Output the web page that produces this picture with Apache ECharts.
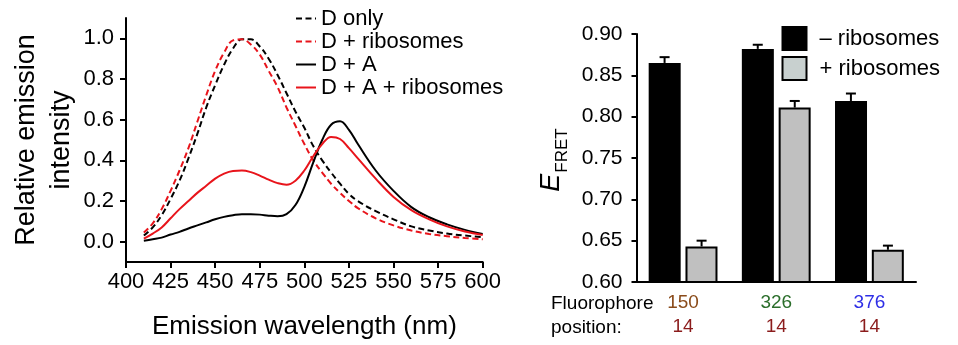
<!DOCTYPE html>
<html>
<head>
<meta charset="utf-8">
<script src="https://cdn.jsdelivr.net/npm/echarts@6/dist/echarts.min.js"></script>
<style>html,body{margin:0;padding:0;background:#fff}#c{width:958px;height:345px}</style>
</head>
<body>
<div id="c"></div>
<script>
const F="'Liberation Sans',Arial,Helvetica,sans-serif";
const RED='#e8141b',BLK='#000';

// emission spectra (nm, relative intensity)
const wavelengths=[410,415,420,425,430,435,440,445,450,455,460,465,470,475,480,485,490,495,500,505,510,515,520,525,530,540,550,560,570,580,590,600];
const dOnly      =[.03,.07,.13,.21,.30,.41,.53,.66,.77,.87,.95,.995,.995,.96,.90,.82,.73,.64,.56,.47,.40,.34,.285,.235,.20,.15,.11,.075,.055,.04,.03,.022];
const dRibo      =[.045,.09,.16,.25,.35,.46,.59,.72,.84,.93,.99,.995,.97,.92,.84,.76,.66,.57,.48,.40,.34,.285,.24,.20,.165,.115,.08,.055,.038,.027,.018,.012];
const dA         =[.005,.012,.02,.035,.048,.065,.08,.095,.11,.122,.13,.135,.135,.133,.128,.125,.135,.18,.27,.39,.50,.575,.592,.55,.48,.35,.25,.17,.12,.085,.058,.038];
const dARibo     =[.015,.04,.07,.115,.16,.20,.24,.275,.31,.335,.348,.35,.342,.325,.305,.288,.28,.30,.35,.42,.48,.515,.505,.46,.41,.31,.22,.155,.11,.075,.05,.033];
const spectraTicks=[0,0.2,0.4,0.6,0.8,1.0];

// FRET efficiency
const positions=['150','326','376'];
const minusRibo=[0.865,0.882,0.819];
const minusErr =[0.872,0.887,0.828];
const plusRibo =[0.643,0.811,0.639];
const plusErr  =[0.650,0.819,0.644];

const zip=v=>wavelengths.map((w,i)=>[w,v[i]]);
const lineS=(name,v,color,dash)=>({name,type:'line',xAxisIndex:0,yAxisIndex:0,data:zip(v),smooth:0.4,symbol:'none',
  lineStyle:{color,width:2,type:dash?[6,3.5]:'solid'},itemStyle:{color}});

function errS(top,base,off){
  return {type:'custom',xAxisIndex:1,yAxisIndex:1,z:1,silent:true,
    data:positions.map((p,i)=>[i,top[i],base[i]]),
    renderItem:(params,api)=>{
      const t=api.coord([api.value(0),api.value(1)]);
      const b=api.coord([api.value(0),api.value(2)]);
      const x=t[0]+off;
      return {type:'group',children:[
        {type:'line',shape:{x1:x,y1:b[1],x2:x,y2:t[1]},style:{stroke:BLK,lineWidth:2}},
        {type:'line',shape:{x1:x-5,y1:t[1],x2:x+5,y2:t[1]},style:{stroke:BLK,lineWidth:2}}
      ]};
    }};
}

const posColors=['#8a4b1a','#2b6e2b','#2e2ee6'];
const chart=echarts.init(document.getElementById('c'));
chart.setOption({
  animation:false,
  textStyle:{fontFamily:F},
  grid:[
    {left:126,top:18,width:356.7,height:249},
    {left:636.5,top:34,width:279.5,height:248}
  ],
  legend:[
    {orient:'vertical',left:295,top:7.5,padding:0,itemWidth:20,itemHeight:12,itemGap:1,
     itemStyle:{opacity:0},
     textStyle:{fontFamily:F,fontSize:22,color:BLK},
     data:['D only','D + ribosomes','D + A','D + A + ribosomes']},
    {orient:'vertical',left:781.5,top:26,padding:0,itemWidth:24,itemHeight:23,itemGap:5,icon:'rect',
     textStyle:{fontFamily:F,fontSize:22,color:BLK,padding:[0,0,0,8]},
     data:[{name:'\u2013 ribosomes'},{name:'+ ribosomes',itemStyle:{color:'#c8d0cf'}}]}
  ],
  xAxis:[
    {type:'value',gridIndex:0,min:400,max:600,interval:25,
     name:'Emission wavelength (nm)',nameLocation:'middle',nameGap:52,
     nameTextStyle:{fontFamily:F,fontSize:26,color:BLK},
     axisLine:{onZero:false,lineStyle:{color:BLK,width:2}},axisTick:{length:6,lineStyle:{color:BLK,width:2}},
     axisLabel:{fontFamily:F,fontSize:22,color:BLK,margin:9},splitLine:{show:false}},
    {type:'category',gridIndex:1,data:positions,
     axisLine:{onZero:false,lineStyle:{color:BLK,width:2}},axisTick:{show:false},
     axisLabel:{margin:9,formatter:(v,i)=>'{p'+i+'|'+v+'}\n{n|14}',
       rich:{p0:{fontFamily:F,fontSize:19,color:posColors[0],lineHeight:24},
             p1:{fontFamily:F,fontSize:19,color:posColors[1],lineHeight:24},
             p2:{fontFamily:F,fontSize:19,color:posColors[2],lineHeight:24},
             n:{fontFamily:F,fontSize:19,color:'#8b1c1c',lineHeight:24}}}}
  ],
  yAxis:[
    {type:'value',gridIndex:0,min:-0.1,max:1.1,
     name:'Relative emission\nintensity',nameLocation:'middle',nameGap:47,nameRotate:90,
     nameTextStyle:{fontFamily:F,fontSize:27,color:BLK,lineHeight:35},
     axisLine:{show:true,onZero:false,lineStyle:{color:BLK,width:2}},
     axisTick:{show:true,length:6,customValues:spectraTicks,lineStyle:{color:BLK,width:2}},
     axisLabel:{fontFamily:F,fontSize:22,color:BLK,margin:12,customValues:spectraTicks,formatter:v=>v.toFixed(1)},
     splitLine:{show:false}},
    {type:'value',gridIndex:1,min:0.6,max:0.9,interval:0.05,
     name:'{e|E}{s|FRET}',nameLocation:'middle',nameGap:66,nameRotate:90,
     nameTextStyle:{padding:[0,4,0,0],rich:{
       e:{fontFamily:F,fontSize:27,fontStyle:'italic',color:BLK,verticalAlign:'top'},
       s:{fontFamily:F,fontSize:17,color:BLK,verticalAlign:'bottom',padding:[16,0,0,1]}}},
     axisLine:{show:true,onZero:false,lineStyle:{color:BLK,width:2}},
     axisTick:{show:true,length:5,lineStyle:{color:BLK,width:2}},
     axisLabel:{fontFamily:F,fontSize:21,color:BLK,margin:14,formatter:v=>v.toFixed(2)},
     splitLine:{show:false}}
  ],
  graphic:[
    {type:'text',left:551,top:294,style:{text:'Fluorophore',font:'19px '+F,fill:BLK}},
    {type:'text',left:551,top:318,style:{text:'position:',font:'19px '+F,fill:BLK}}
  ],
  series:[
    lineS('D only',dOnly,BLK,true),
    lineS('D + ribosomes',dRibo,RED,true),
    lineS('D + A',dA,BLK,false),
    lineS('D + A + ribosomes',dARibo,RED,false),
    {name:'\u2013 ribosomes',type:'bar',xAxisIndex:1,yAxisIndex:1,data:minusRibo,barWidth:32,barGap:'15%',z:2,
     itemStyle:{color:BLK,borderColor:BLK,borderWidth:2}},
    {name:'+ ribosomes',type:'bar',xAxisIndex:1,yAxisIndex:1,data:plusRibo,barWidth:32,barGap:'15%',z:2,
     itemStyle:{color:'#c0c0c0',borderColor:BLK,borderWidth:2}},
    errS(minusErr,minusRibo,-18.5),
    errS(plusErr,plusRibo,18.5)
  ]
});
</script>
</body>
</html>
